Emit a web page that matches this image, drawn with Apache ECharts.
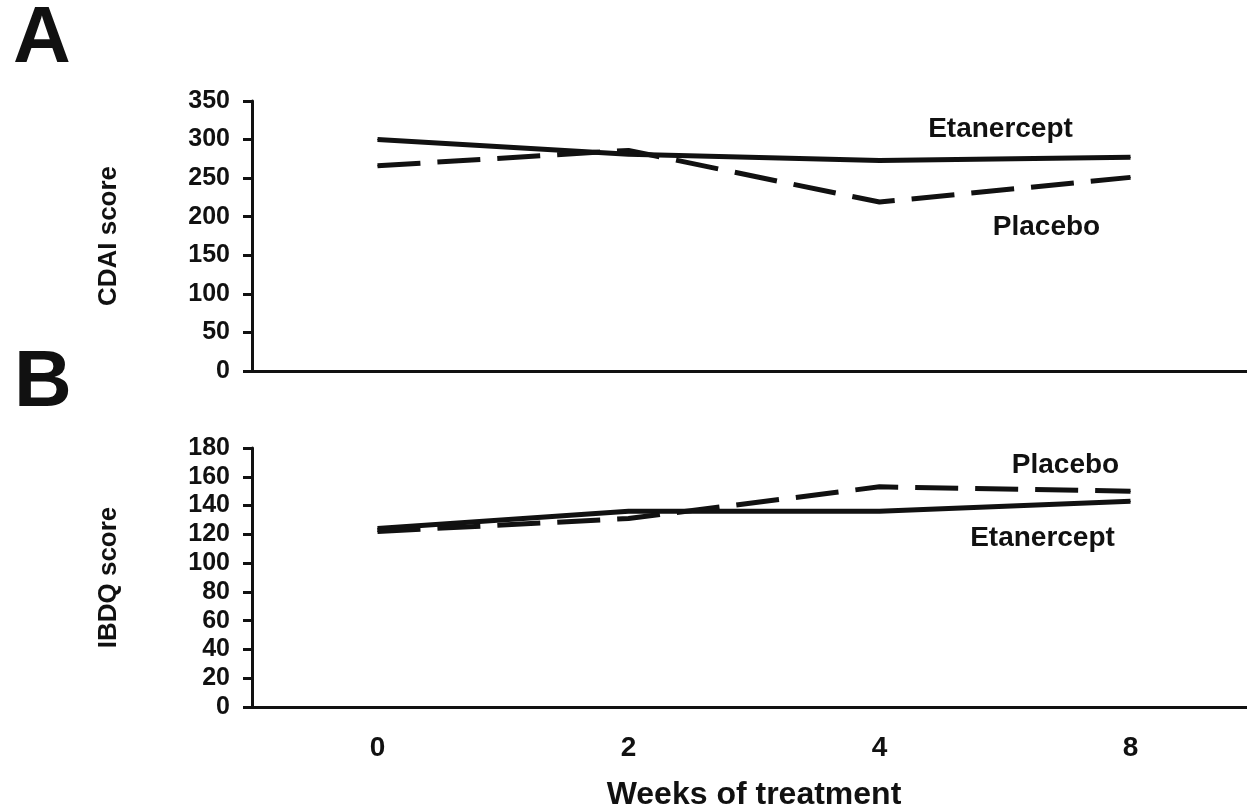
<!DOCTYPE html>
<html style="height:100%">
<head>
  <meta charset="UTF-8">
  <title>Etanercept vs Placebo: CDAI and IBDQ scores</title>
  <script src="https://cdn.jsdelivr.net/npm/echarts/dist/echarts.min.js"></script>
  <style>
    html, body { margin: 0; padding: 0; background: #fff; overflow: hidden; }
    /* a bit wider than the window so the x axis runs off the right edge */
    #chart { width: 1262px; height: 812px; }
  </style>
</head>
<body>
<div id="chart"></div>
<script>
  // ---------------------------------
  // Data
  var weeks = ['0', '2', '4', '8'];

  // Panel A: CDAI score
  var cdaiEtanercept = [300, 281, 273, 277];
  var cdaiPlacebo    = [266, 286, 219, 251];

  // Panel B: IBDQ score
  var ibdqEtanercept = [124, 136, 136, 143];
  var ibdqPlacebo    = [122, 131, 153, 150];
  // ---------------------------------

  var INK = '#111';
  var FONT = '"Liberation Sans", Arial, sans-serif';

  // put a text label on the last point of a series, shifted by offset
  function withEndLabel(values, text, offset) {
    return values.map(function (v, i) {
      if (i !== values.length - 1) return v;
      return {
        value: v,
        label: {
          show: true,
          position: 'inside',
          offset: offset,
          formatter: text,
          color: INK,
          fontFamily: FONT,
          fontWeight: 'bold',
          fontSize: 28
        }
      };
    });
  }

  function lineSeries(name, axis, values, dashed, labelOffset) {
    return {
      name: name,
      type: 'line',
      xAxisIndex: axis,
      yAxisIndex: axis,
      data: withEndLabel(values, name, labelOffset),
      symbol: 'circle',
      symbolSize: 1,
      itemStyle: { color: INK },
      lineStyle: {
        color: INK,
        width: 5,
        type: dashed ? [43, 17] : 'solid'
      },
      animation: false
    };
  }

  function xAxisFor(idx, showLabels) {
    return {
      type: 'category',
      gridIndex: idx,
      data: weeks,
      boundaryGap: true,
      axisLine: { lineStyle: { color: INK, width: 3 } },
      axisTick: { alignWithLabel: true, length: 11, lineStyle: { color: INK, width: 3 } },
      axisLabel: {
        show: showLabels,
        color: INK,
        fontFamily: FONT,
        fontWeight: 'bold',
        fontSize: 28,
        margin: 27
      },
      name: showLabels ? 'Weeks of treatment' : '',
      nameLocation: 'middle',
      nameGap: 72,
      nameTextStyle: { color: INK, fontFamily: FONT, fontWeight: 'bold', fontSize: 32 },
      splitLine: { show: false }
    };
  }

  function yAxisFor(idx, name, max, interval) {
    return {
      type: 'value',
      gridIndex: idx,
      min: 0,
      max: max,
      interval: interval,
      name: name,
      nameLocation: 'middle',
      nameGap: 130,
      nameTextStyle: { color: INK, fontFamily: FONT, fontWeight: 'bold', fontSize: 26 },
      axisLine: { show: true, lineStyle: { color: INK, width: 3 } },
      axisTick: { show: true, length: 9, lineStyle: { color: INK, width: 3 } },
      axisLabel: {
        color: INK,
        fontFamily: FONT,
        fontWeight: 'bold',
        fontSize: 25,
        margin: 22
      },
      splitLine: { show: false }
    };
  }

  var myChart = echarts.init(document.getElementById('chart'));

  var option = {
    backgroundColor: '#fff',
    animation: false,
    grid: [
      { left: 252, top: 101, width: 1004, height: 270 },
      { left: 252, top: 448, width: 1004, height: 265 }
    ],
    xAxis: [xAxisFor(0, false), xAxisFor(1, true)],
    yAxis: [
      yAxisFor(0, 'CDAI score', 350, 50),
      yAxisFor(1, 'IBDQ score', 180, 20)
    ],
    graphic: [
      { type: 'text', left: 13, top: 0, style: { text: 'A', fill: INK, font: 'bold 80px ' + FONT } },
      { type: 'text', left: 14, top: 344, style: { text: 'B', fill: INK, font: 'bold 80px ' + FONT } }
    ],
    series: [
      lineSeries('Etanercept', 0, cdaiEtanercept, false, [-130, -28]),
      lineSeries('Placebo', 0, cdaiPlacebo, true, [-84, 50]),
      lineSeries('Etanercept', 1, ibdqEtanercept, false, [-88, 37]),
      lineSeries('Placebo', 1, ibdqPlacebo, true, [-65, -26])
    ]
  };

  myChart.setOption(option);
</script>
</body>
</html>
